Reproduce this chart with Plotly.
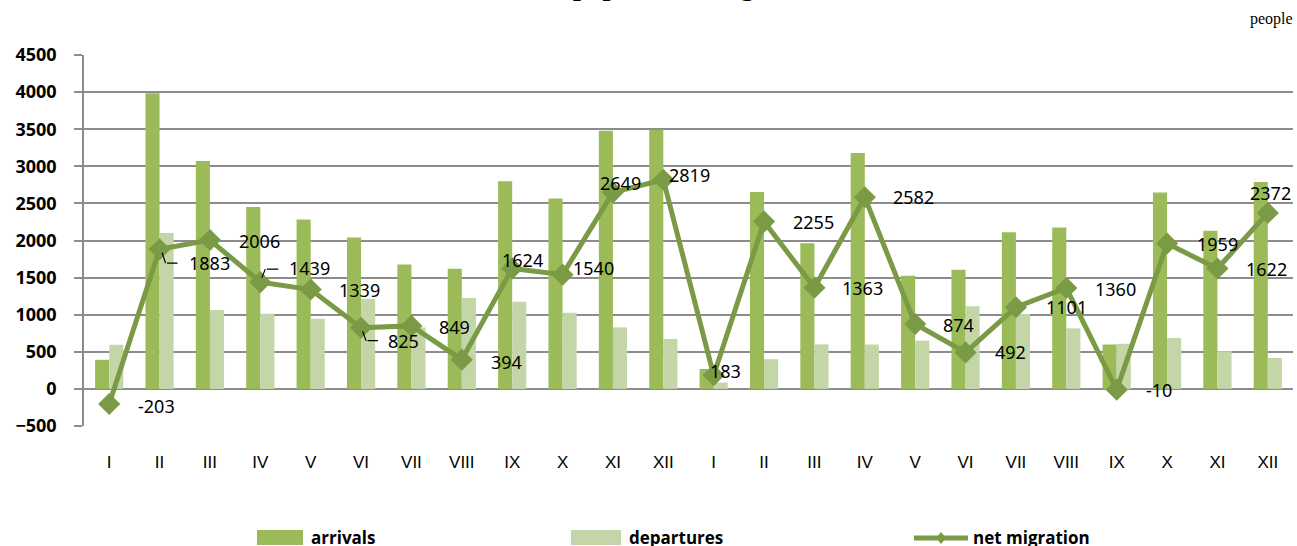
import plotly.graph_objects as go

# ---------------- data ----------------
months = ["I", "II", "III", "IV", "V", "VI", "VII", "VIII", "IX", "X", "XI", "XII",
          "I", "II", "III", "IV", "V", "VI", "VII", "VIII", "IX", "X", "XI", "XII"]
arrivals = [392, 3985, 3070, 2452, 2283, 2040, 1677, 1620, 2800, 2565, 3478, 3492,
            268, 2655, 1963, 3180, 1525, 1606, 2112, 2176, 598, 2646, 2130, 2788]
departures = [595, 2102, 1064, 1013, 944, 1215, 828, 1226, 1176, 1025, 829, 673,
              85, 400, 600, 598, 651, 1114, 1011, 816, 608, 687, 508, 416]
net_migration = [-203, 1883, 2006, 1439, 1339, 825, 849, 394, 1624, 1540, 2649, 2819,
                 183, 2255, 1363, 2582, 874, 492, 1101, 1360, -10, 1959, 1622, 2372]
y_ticks = [-500, 0, 500, 1000, 1500, 2000, 2500, 3000, 3500, 4000, 4500]

# ---------------- style ----------------
W, H = 1297, 546
L, R, T, B = 84, 1293, 55, 426          # plot area in pixels
ARR = "#9BBB59"
DEP = "#C4D6A8"
NET = "#7A9A45"
GRID = "#8C8C8C"

# label offsets in pixels (left edge dx, centre dy downwards)
label_dx = [27, 27, 27, 27, 26, 25, 26, 27, -12, 8, -15, 4,
            -6, 27, 26, 26, 26, 27, 28, 27, 27, 28, 27, -20]
label_dy = [2, 14, 1, -14, 0, 13, 1, 2, -8, -7, -9, -5,
            -4, 0, 0, 0, 1, 0, 0, 1, 0, 0, 0, -20]


def px(xp):
    return (xp - L) / (R - L)


def py(yp):
    return (B - yp) / (B - T)


xs = list(range(len(months)))

fig = go.Figure()
fig.add_trace(go.Bar(x=xs, y=arrivals, name="arrivals", marker_color=ARR,
                     marker_line_width=0))
fig.add_trace(go.Bar(x=xs, y=departures, name="departures", marker_color=DEP,
                     marker_line_width=0))
fig.add_trace(go.Scatter(x=xs, y=net_migration, name="net migration", mode="lines+markers",
                         line=dict(color=NET, width=5),
                         marker=dict(symbol="diamond", size=17, color=NET)))

annotations = []
for i, v in enumerate(net_migration):
    annotations.append(dict(x=xs[i], y=v, xref="x", yref="y", text=str(v), showarrow=False,
                            xanchor="left", yanchor="middle",
                            xshift=label_dx[i], yshift=-label_dy[i],
                            font=dict(family="Noto Sans", size=18, color="black")))

# leader lines (point index, start offset, elbow offset, end offset)
leaders = [(1, (2, 2), (6, 14), (18, 14)),
           (3, (1, -3), (5, -13), (18, -13)),
           (5, (1, 2), (5, 13), (17, 13))]
for idx, s, m, e in leaders:
    for a, b in ((s, m), (m, e)):
        annotations.append(dict(x=xs[idx], y=net_migration[idx], xref="x", yref="y", text="",
                                showarrow=True, arrowhead=0, arrowwidth=1.2, arrowcolor="black",
                                xshift=b[0], yshift=-b[1], ax=a[0] - b[0], ay=a[1] - b[1],
                                standoff=0, startstandoff=0))

# title (mostly outside the visible area, as in the reference)
annotations.append(dict(x=px(830), y=py(-15), xref="paper", yref="paper", xanchor="right",
                        yanchor="middle", showarrow=False,
                        text="<b>Internal population migration</b>",
                        font=dict(family="Liberation Serif", size=28, color="black")))
annotations.append(dict(x=px(1295), y=py(19), xref="paper", yref="paper", xanchor="right",
                        yanchor="middle", showarrow=False, text="people",
                        font=dict(family="Liberation Serif", size=16, color="black")))

# legend (drawn manually)
shapes = []
leg_y = 537
leg_font = dict(family="Open Sans", size=17, color="black")
shapes.append(dict(type="rect", xref="paper", yref="paper", x0=px(257), x1=px(303),
                   y0=py(leg_y + 8), y1=py(leg_y - 7), fillcolor=ARR, line_width=0))
annotations.append(dict(x=px(309), y=py(leg_y), xref="paper", yref="paper", xanchor="left",
                        yanchor="middle", showarrow=False, text="<b>arrivals</b>", font=leg_font))
shapes.append(dict(type="rect", xref="paper", yref="paper", x0=px(571), x1=px(621),
                   y0=py(leg_y + 8), y1=py(leg_y - 7), fillcolor=DEP, line_width=0))
annotations.append(dict(x=px(627), y=py(leg_y), xref="paper", yref="paper", xanchor="left",
                        yanchor="middle", showarrow=False, text="<b>departures</b>", font=leg_font))
shapes.append(dict(type="line", xref="paper", yref="paper", x0=px(914), x1=px(968),
                   y0=py(leg_y + 1), y1=py(leg_y + 1), line=dict(color=NET, width=5)))
shapes.append(dict(type="path", xref="paper", yref="paper",
                   path=f"M {px(941)},{py(leg_y - 5)} L {px(946)},{py(leg_y + 1)} "
                        f"L {px(941)},{py(leg_y + 7)} L {px(936)},{py(leg_y + 1)} Z",
                   fillcolor=NET, line_width=0))
annotations.append(dict(x=px(971), y=py(leg_y), xref="paper", yref="paper", xanchor="left",
                        yanchor="middle", showarrow=False, text="<b>net migration</b>",
                        font=leg_font))

fig.update_layout(
    width=W, height=H,
    margin=dict(l=L, r=W - R, t=T, b=H - B, pad=0),
    paper_bgcolor="white", plot_bgcolor="white",
    barmode="group", bargap=0.44, bargroupgap=0,
    showlegend=False,
    annotations=annotations, shapes=shapes,
    xaxis=dict(range=[-0.5, len(months) - 0.5], tickmode="array", tickvals=xs, ticktext=months,
               showgrid=False, zeroline=False, showline=False, ticks="",
               ticklabelstandoff=24,
               tickfont=dict(family="Liberation Sans", size=17, color="black")),
    yaxis=dict(range=[-500, 4500], tickmode="array", tickvals=y_ticks,
               showgrid=True, gridcolor=GRID, gridwidth=1.6,
               zeroline=False, showline=True, linecolor=GRID, linewidth=1.6,
               ticks="outside", ticklen=8, tickcolor=GRID, tickwidth=1.6,
               ticklabelstandoff=14,
               tickfont=dict(family="Open Sans", size=18, color="black", weight="bold")),
)

fig.write_html("out.html", config={"displayModeBar": False},
               post_script="document.body.style.margin='0';document.body.style.overflow='hidden';")
